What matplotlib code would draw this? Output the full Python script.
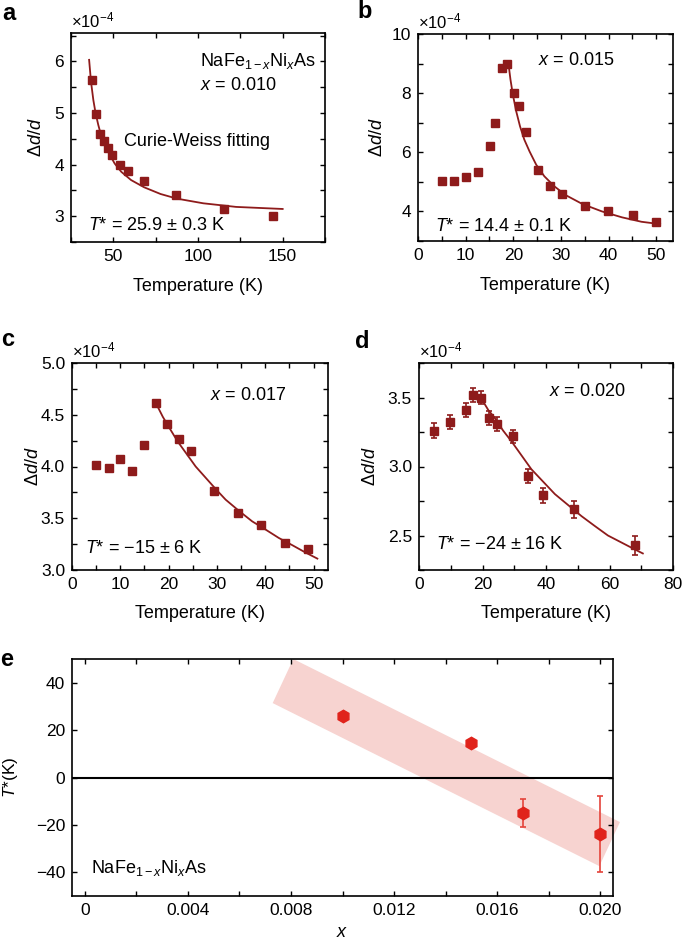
import numpy as np
import matplotlib
matplotlib.use('Agg')
import matplotlib.pyplot as plt
from matplotlib.ticker import MultipleLocator, FormatStrFormatter

# ============================================================
# GLOBAL CONFIG
# ============================================================
plt.rcParams['font.family'] = ['Liberation Sans', 'DejaVu Sans']
plt.rcParams['mathtext.fontset'] = 'custom'
plt.rcParams['mathtext.rm'] = 'Liberation Sans'
plt.rcParams['mathtext.it'] = 'Liberation Sans:italic'
plt.rcParams['axes.linewidth'] = 1.2
plt.rcParams['font.size'] = 13

DARK = '#8e1b1b'
RED = '#e0231b'
BAND = '#f7d3d0'

W, H = 685, 943

# ============================================================
# DATA
# ============================================================
# panel a, x = 0.010
a_T = [37.2, 39.7, 42.2, 44.4, 46.9, 49.2, 54.1, 58.5, 68.2, 86.8, 115.1, 144.4]
a_y = [5.63, 4.99, 4.59, 4.46, 4.32, 4.19, 3.99, 3.88, 3.69, 3.41, 3.13, 3.01]
a_fitT = [35.7, 36.8, 38.2, 39.5, 41.1, 43.0, 45.0, 47.9, 50.8, 54.7, 60.5, 68.2,
          77.9, 87.6, 103.1, 122.5, 150.0]
a_fity = [6.03, 5.61, 5.25, 5.00, 4.77, 4.54, 4.38, 4.19, 4.02, 3.86, 3.70, 3.56,
          3.43, 3.34, 3.25, 3.18, 3.14]

# panel b, x = 0.015
b_T = [5.1, 7.6, 10.0, 12.6, 15.1, 16.1, 17.6, 18.7, 20.1, 21.2, 22.6, 25.2,
       27.7, 30.2, 35.1, 39.9, 45.1, 50.0]
b_y = [5.03, 5.04, 5.18, 5.33, 6.21, 6.99, 8.85, 9.00, 8.01, 7.55, 6.68, 5.40,
       4.87, 4.60, 4.19, 4.01, 3.88, 3.64]
b_fitT = [19.0, 19.4, 19.9, 20.6, 21.4, 22.3, 23.4, 24.8, 26.5, 28.6, 31.0, 34.5,
          38.6, 42.8, 46.9, 50.8]
b_fity = [8.97, 8.46, 7.95, 7.39, 6.88, 6.43, 6.03, 5.58, 5.19, 4.85, 4.55, 4.25,
          4.00, 3.80, 3.65, 3.57]

# panel c, x = 0.017
c_T = [5.0, 7.6, 10.0, 12.4, 14.9, 17.3, 19.7, 22.1, 24.6, 29.4, 34.3, 39.1, 44.0, 48.8]
c_y = [4.01, 3.99, 4.07, 3.96, 4.21, 4.61, 4.41, 4.27, 4.15, 3.76, 3.55, 3.43, 3.26, 3.20]
c_err = [0.02, 0.02, 0.02, 0.02, 0.02, 0.02, 0.02, 0.02, 0.025, 0.025, 0.025, 0.025, 0.03, 0.03]
c_fitT = [17.5, 18.8, 20.2, 21.9, 23.6, 25.6, 27.7, 29.8, 31.8, 34.6, 37.3, 40.1,
          42.8, 45.6, 48.3, 50.8]
c_fity = [4.60, 4.48, 4.37, 4.24, 4.13, 4.00, 3.89, 3.78, 3.68, 3.57, 3.47, 3.39,
          3.31, 3.24, 3.17, 3.11]

# panel d, x = 0.020
d_T = [4.8, 9.8, 14.7, 17.1, 19.5, 21.9, 24.5, 29.5, 34.4, 39.2, 48.7, 67.9]
d_y = [3.26, 3.32, 3.41, 3.52, 3.50, 3.35, 3.31, 3.22, 2.93, 2.79, 2.69, 2.43]
d_err = [0.052, 0.05, 0.05, 0.05, 0.05, 0.05, 0.05, 0.048, 0.053, 0.057, 0.062, 0.07]
d_fitT = [19.7, 21.8, 23.9, 26.5, 29.2, 32.3, 35.4, 39.1, 42.8, 47.0, 51.2, 55.3,
          59.5, 63.7, 67.9, 70.5]
d_fity = [3.49, 3.41, 3.35, 3.26, 3.18, 3.08, 2.98, 2.89, 2.80, 2.72, 2.64, 2.57,
          2.50, 2.45, 2.40, 2.37]

# panel e, T* vs x
e_x = [0.010, 0.015, 0.017, 0.020]
e_T = [25.9, 14.4, -15.0, -24.0]
e_err = [0.3, 0.1, 6.0, 16.0]
band_x = [0.00729, 0.00809, 0.02077, 0.01997]
band_y = [31.4, 50.0, -18.8, -37.4]


def add_ax(fig, left, top, right, bottom):
    # pixel box -> figure fraction
    return fig.add_axes([left / W, 1 - bottom / H, (right - left) / W, (bottom - top) / H])


def style_ax(ax):
    ax.tick_params(which='both', direction='in', top=True, right=True,
                   length=3.5, width=1.0, labelsize=12.5, pad=5)


def temp_panel(ax, T, y, fitT, fity, err=None):
    if err is None:
        ax.plot(T, y, 's', color=DARK, ms=6.2, zorder=3)
    else:
        ax.errorbar(T, y, yerr=err, fmt='s', color=DARK, ecolor=DARK, ms=6.2,
                    elinewidth=1.2, capsize=2.5, capthick=1.2, zorder=3)
    ax.plot(fitT, fity, '-', color=DARK, lw=1.3, zorder=2)
    ax.set_xlabel('Temperature (K)', fontsize=13, va='center')
    ax.set_ylabel(r'Δ$d$/$d$', fontsize=13, va='center')
    ax.text(0.0, 1.06, r'×10$^{-4}$', transform=ax.transAxes, fontsize=12,
            ha='left', va='center')
    style_ax(ax)


fig = plt.figure(figsize=(W / 100, H / 100), dpi=100)

# ---------- a ----------
ax = add_ax(fig, 71, 33, 325, 242)
temp_panel(ax, a_T, a_y, a_fitT, a_fity)
ax.set_xlim(25, 175)
ax.set_ylim(2.5, 6.55)
ax.xaxis.set_major_locator(MultipleLocator(50))
ax.xaxis.set_minor_locator(MultipleLocator(25))
ax.yaxis.set_major_locator(MultipleLocator(1))
ax.yaxis.set_minor_locator(MultipleLocator(0.5))
ax.text(0.508, 0.866, r'NaFe$_{1-x}$Ni$_x$As', transform=ax.transAxes, va='center')
ax.text(0.508, 0.751, r'$x$ = 0.010', transform=ax.transAxes, va='center')
ax.text(0.209, 0.483, 'Curie-Weiss fitting', transform=ax.transAxes, va='center')
ax.text(0.067, 0.081, r'$T$* = 25.9 ± 0.3 K', transform=ax.transAxes, va='center')
ax.xaxis.set_label_coords(0.5, -0.215)
ax.yaxis.set_label_coords(-0.134, 0.5)

# ---------- b ----------
ax = add_ax(fig, 418, 34, 673, 241)
temp_panel(ax, b_T, b_y, b_fitT, b_fity)
ax.set_xlim(0, 53.5)
ax.set_ylim(3, 10)
ax.xaxis.set_major_locator(MultipleLocator(10))
ax.xaxis.set_minor_locator(MultipleLocator(5))
ax.yaxis.set_major_locator(MultipleLocator(2))
ax.yaxis.set_minor_locator(MultipleLocator(1))
ax.text(0.471, 0.870, r'$x$ = 0.015', transform=ax.transAxes, va='center')
ax.text(0.067, 0.072, r'$T$* = 14.4 ± 0.1 K', transform=ax.transAxes, va='center')
ax.xaxis.set_label_coords(0.5, -0.213)
ax.yaxis.set_label_coords(-0.157, 0.5)

# ---------- c ----------
ax = add_ax(fig, 72, 363, 328, 570)
temp_panel(ax, c_T, c_y, c_fitT, c_fity, err=c_err)
ax.set_xlim(0, 53)
ax.set_ylim(3.0, 5.0)
ax.xaxis.set_major_locator(MultipleLocator(10))
ax.xaxis.set_minor_locator(MultipleLocator(5))
ax.yaxis.set_major_locator(MultipleLocator(0.5))
ax.yaxis.set_minor_locator(MultipleLocator(0.25))
ax.yaxis.set_major_formatter(FormatStrFormatter('%.1f'))
ax.text(0.539, 0.845, r'$x$ = 0.017', transform=ax.transAxes, va='center')
ax.text(0.051, 0.106, r'$T$* = −15 ± 6 K', transform=ax.transAxes, va='center')
ax.xaxis.set_label_coords(0.5, -0.208)
ax.yaxis.set_label_coords(-0.15, 0.5)

# ---------- d ----------
ax = add_ax(fig, 419, 363, 673, 570)
temp_panel(ax, d_T, d_y, d_fitT, d_fity, err=d_err)
ax.set_xlim(0, 80)
ax.set_ylim(2.25, 3.75)
ax.xaxis.set_major_locator(MultipleLocator(20))
ax.xaxis.set_minor_locator(MultipleLocator(10))
ax.yaxis.set_major_locator(MultipleLocator(0.5))
ax.yaxis.set_minor_locator(MultipleLocator(0.25))
ax.yaxis.set_major_formatter(FormatStrFormatter('%.1f'))
ax.text(0.512, 0.860, r'$x$ = 0.020', transform=ax.transAxes, va='center')
ax.text(0.067, 0.121, r'$T$* = −24 ± 16 K', transform=ax.transAxes, va='center')
ax.xaxis.set_label_coords(0.5, -0.208)
ax.yaxis.set_label_coords(-0.189, 0.5)

# ---------- e ----------
ax = add_ax(fig, 72, 659, 613, 896)
ax.fill(band_x, band_y, color=BAND, lw=0, zorder=1, clip_on=False)
ax.axhline(0, color='k', lw=1.5, zorder=2)
ax.errorbar(e_x, e_T, yerr=e_err, fmt='h', color=RED, ecolor='#e4433b', ms=9,
            elinewidth=1.2, capsize=2.5, capthick=1.2, zorder=3)
ax.set_xlim(-0.0005, 0.0205)
ax.set_ylim(-50, 50)
ax.xaxis.set_minor_locator(MultipleLocator(0.002))
ax.yaxis.set_major_locator(MultipleLocator(20))
ax.set_xticks([0, 0.004, 0.008, 0.012, 0.016, 0.020])
ax.set_xticklabels(['0', '0.004', '0.008', '0.012', '0.016', '0.020'])
style_ax(ax)
ax.set_xlabel(r'$x$', fontsize=13, va='center')
ax.set_ylabel(r'$T$*(K)', fontsize=12.5, va='center')
ax.xaxis.set_label_coords(0.5, -0.155)
ax.yaxis.set_label_coords(-0.113, 0.5)
ax.text(0.0345, 0.117, r'NaFe$_{1-x}$Ni$_x$As', transform=ax.transAxes, va='center')

# ---------- panel letters ----------
for lab, px, py in [('a', 2, 14), ('b', 357, 12), ('c', 1, 340), ('d', 355, 341), ('e', 0, 659)]:
    fig.text(px / W, 1 - py / H, lab, fontsize=17, fontweight='bold', ha='left', va='center')

fig.savefig('out.png', dpi=100)
